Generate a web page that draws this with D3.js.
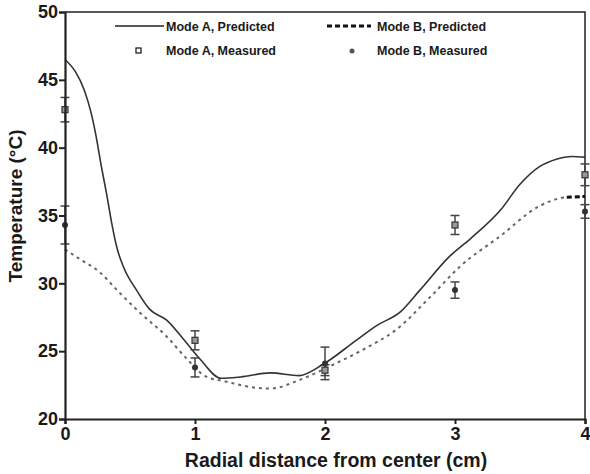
<!DOCTYPE html>
<head>
  <meta charset="utf-8">
  <script src="https://d3js.org/d3.v7.min.js"></script>
  <style>
    body { margin: 0; background: #fff; }
    text { font-family: "Liberation Sans", Arial, sans-serif; font-weight: bold; fill: #1a1a1a; }
  </style>
</head>
<body>
<script>
  // predicted profiles
  var predAx = [0, 0.08, 0.15, 0.2, 0.24, 0.28, 0.32, 0.36, 0.4, 0.45, 0.55, 0.65, 0.78, 0.91, 1.04, 1.2, 1.35, 1.58, 1.8, 1.98, 2.24, 2.4, 2.58, 2.73, 2.96, 3.12, 3.35, 3.5, 3.65, 3.78, 3.9, 4.0];
  var predAy = [46.5, 45.6, 44.2, 42.6, 40.8, 38.6, 36.6, 34.4, 32.6, 31.2, 29.5, 28.1, 27.3, 25.9, 24.4, 23.0, 23.1, 23.4, 23.2, 24.0, 25.8, 26.9, 27.9, 29.5, 32.0, 33.3, 35.4, 37.3, 38.6, 39.15, 39.35, 39.3];
  var predBx = [0, 0.12, 0.27, 0.4, 0.58, 0.78, 0.94, 1.09, 1.22, 1.47, 1.58, 1.81, 2.04, 2.29, 2.55, 2.81, 3.04, 3.35, 3.65, 3.86, 4.0];
  var predBy = [32.5, 31.75, 30.8, 29.5, 27.8, 26.1, 24.4, 23.1, 22.8, 22.3, 22.25, 22.9, 23.9, 25.1, 26.6, 29.0, 31.25, 33.5, 35.7, 36.35, 36.4];

  // measured points with error bars
  var measX = [0, 1, 2, 3, 4];
  var measA = [42.8, 25.8, 23.6, 34.3, 38.0];
  var errA = [0.9, 0.7, 0.4, 0.7, 0.8];
  var measB = [34.3, 23.8, 24.1, 29.5, 35.3];
  var errB = [1.4, 0.7, 1.2, 0.6, 0.5];

  var xTicks = [0, 1, 2, 3, 4];
  var yTicks = [20, 25, 30, 35, 40, 45, 50];

  var w = 590, h = 474;
  var m = {top: 12, right: 5, bottom: 55, left: 65};

  var svg = d3.select("body").append("svg")
    .attr("width", w)
    .attr("height", h);

  var x = d3.scaleLinear().domain([0, 4]).range([m.left, w - m.right]);
  var y = d3.scaleLinear().domain([20, 50]).range([h - m.bottom, m.top]);

  var line = d3.line()
    .x(function(d) { return x(d[0]); })
    .y(function(d) { return y(d[1]); })
    .curve(d3.curveMonotoneX);

  var dataA = d3.zip(predAx, predAy);
  var dataB = d3.zip(predBx, predBy);

  // frame top / right
  svg.append("path")
    .attr("d", "M" + x(0) + "," + y(50) + "H" + x(4) + "V" + y(20))
    .attr("fill", "none").attr("stroke", "#222").attr("stroke-width", 1.5);

  // predicted lines
  svg.append("path").datum(dataB)
    .attr("d", line)
    .attr("fill", "none").attr("stroke", "#666")
    .attr("stroke-width", 2).attr("stroke-dasharray", "3,4");
  svg.append("path").datum(dataB.filter(function(d) { return d[0] >= 3.86; }))
    .attr("d", line)
    .attr("fill", "none").attr("stroke", "#111")
    .attr("stroke-width", 3).attr("stroke-dasharray", "5,3");
  svg.append("path").datum(dataA)
    .attr("d", line)
    .attr("fill", "none").attr("stroke", "#333").attr("stroke-width", 1.6);

  // error bars
  function errBars(vals, errs, col) {
    var g = svg.append("g").attr("stroke", col).attr("stroke-width", 1.5);
    measX.forEach(function(xv, i) {
      var cx = x(xv), lo = y(vals[i] - errs[i]), hi = y(vals[i] + errs[i]);
      g.append("line").attr("x1", cx).attr("x2", cx).attr("y1", lo).attr("y2", hi);
      g.append("line").attr("x1", cx - 4.5).attr("x2", cx + 4.5).attr("y1", lo).attr("y2", lo);
      g.append("line").attr("x1", cx - 4.5).attr("x2", cx + 4.5).attr("y1", hi).attr("y2", hi);
    });
  }
  errBars(measA, errA, "#444");
  errBars(measB, errB, "#444");

  svg.selectAll("rect.ma").data(measX).enter().append("rect")
    .attr("class", "ma")
    .attr("x", function(d) { return x(d) - 3; })
    .attr("y", function(d, i) { return y(measA[i]) - 3; })
    .attr("width", 6).attr("height", 6)
    .attr("fill", "#999").attr("stroke", "#333").attr("stroke-width", 1.2);
  svg.selectAll("circle.mb").data(measX).enter().append("circle")
    .attr("class", "mb")
    .attr("cx", function(d) { return x(d); })
    .attr("cy", function(d, i) { return y(measB[i]); })
    .attr("r", 3)
    .attr("fill", "#333");

  // axes
  var xAxis = svg.append("g")
    .attr("transform", "translate(0," + y(20) + ")")
    .call(d3.axisBottom(x).tickValues(xTicks).tickFormat(d3.format("d")).tickSize(5).tickPadding(3));
  var yAxis = svg.append("g")
    .attr("transform", "translate(" + x(0) + ",0)")
    .call(d3.axisLeft(y).tickValues(yTicks).tickSize(6).tickPadding(1));
  [xAxis, yAxis].forEach(function(a) {
    a.select(".domain").attr("stroke", "#222").attr("stroke-width", 2.2);
    a.selectAll(".tick line").attr("stroke", "#222").attr("stroke-width", 2);
    a.selectAll(".tick text").attr("font-size", 18).attr("font-family", "Liberation Sans, Arial, sans-serif")
      .attr("font-weight", "bold").attr("fill", "#1a1a1a");
  });

  svg.append("text")
    .attr("x", 336).attr("y", 467)
    .attr("text-anchor", "middle").attr("font-size", 19.5)
    .text("Radial distance from center (cm)");
  svg.append("text")
    .attr("transform", "translate(22,206) rotate(-90)")
    .attr("text-anchor", "middle").attr("font-size", 19)
    .text("Temperature (\u00B0C)");

  // legend
  var leg = svg.append("g").attr("font-size", 12.5);
  leg.append("line").attr("x1", 115).attr("x2", 164).attr("y1", 26).attr("y2", 26)
    .attr("stroke", "#222").attr("stroke-width", 1.5);
  leg.append("text").attr("x", 166).attr("y", 31).text("Mode A, Predicted");
  leg.append("rect").attr("x", 136).attr("y", 48).attr("width", 5).attr("height", 5)
    .attr("fill", "#fff").attr("stroke", "#111").attr("stroke-width", 1.2);
  leg.append("text").attr("x", 166).attr("y", 55).text("Mode A, Measured");
  leg.append("line").attr("x1", 327).attr("x2", 371).attr("y1", 26).attr("y2", 26)
    .attr("stroke", "#111").attr("stroke-width", 3).attr("stroke-dasharray", "5,3");
  leg.append("text").attr("x", 377).attr("y", 31).text("Mode B, Predicted");
  leg.append("circle").attr("cx", 352).attr("cy", 51).attr("r", 2.5).attr("fill", "#555");
  leg.append("text").attr("x", 377).attr("y", 55).text("Mode B, Measured");
</script>
</body>
